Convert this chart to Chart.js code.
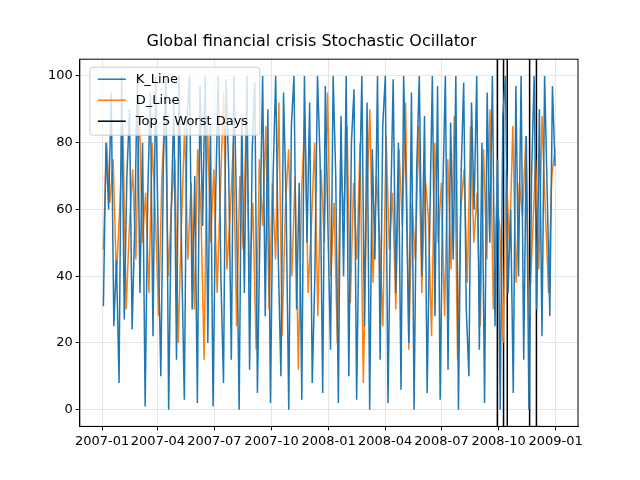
<!DOCTYPE html>
<html>
<head>
<script src="https://cdn.jsdelivr.net/npm/chart.js@4/dist/chart.umd.min.js"></script>
<style>body{margin:0;background:#fff}#wrap{width:640px;height:480px}</style>
</head>
<body>
<div id="wrap"><canvas id="c"></canvas></div>
<script>
// day offsets since 2007-01-01
const startDay = 2, endDay = 730;
const tickDays = [0, 90, 181, 273, 365, 456, 547, 639, 731];
const tickLabels = ['2007-01','2007-04','2007-07','2007-10','2008-01','2008-04','2008-07','2008-10','2009-01'];
const worstDays = [637, 647, 653, 689, 700];

const kValues = [31,80,60,95,25,45,8,100,27,70,90,24,55,100,35,80,1,65,95,22,100,50,10,75,100,0,60,92,15,100,45,3,88,100,30,70,2,97,55,100,20,85,1,64,100,40,8,99,72,15,100,60,0,88,35,100,12,78,98,5,55,100,28,90,2,70,100,45,10,95,62,0,85,100,30,68,3,100,50,92,8,40,100,75,5,97,55,18,100,70,2,88,40,100,10,80,96,3,60,100,25,92,0,78,45,100,15,85,100,2,58,99,35,80,6,100,66,20,95,0,72,100,40,88,5,55,100,28,97,3,65,100,12,86,45,100,0,70,98,30,10,92,60,100,18,80,2,95,50,100,25,75,0,88,100,35,60,5,97,40,100,15,82,0,70,100,30,90,22,100,65,28,97,73];
const dValues = [48,80,62,75,40,60,85,30,55,72,45,92,50,65,35,80,58,28,70,90,40,62,75,20,55,85,45,68,30,78,60,15,88,50,72,35,65,95,42,58,80,25,70,48,90,38,62,18,75,55,85,30,68,45,92,22,60,78,40,70,12,65,88,35,55,80,28,72,50,95,40,62,20,75,58,85,32,68,45,80,8,60,90,38,70,52,25,82,48,65,30,78,55,92,18,62,45,85,35,70,58,22,80,50,68,28,75,42,88,15,60,72,38,85,50,65,25,78,45,90,30,62,55,20,72,48,85,38,68,58,82,28,50,75,42,88,60,35,70,78];

const spread = (vals) => vals.map((v, i) => ({ x: startDay + i * (endDay - startDay) / (vals.length - 1), y: v }));
const worstPts = [];
worstDays.forEach(d => { worstPts.push({x: d, y: -10}, {x: d, y: 110}, {x: d, y: null}); });

const frameAndLegend = {
  id: 'frameAndLegend',
  afterDraw(chart) {
    const ctx = chart.ctx, a = chart.chartArea;
    ctx.save();
    ctx.strokeStyle = '#000'; ctx.lineWidth = 1;
    ctx.strokeRect(a.left, a.top, a.right - a.left, a.bottom - a.top);
    const items = [['K_Line','#1f77b4'],['D_Line','#ff7f0e'],['Top 5 Worst Days','#000']];
    const x = a.left + 10, y = a.top + 8;
    ctx.fillStyle = 'rgba(255,255,255,0.8)';
    ctx.strokeStyle = '#ccc';
    ctx.beginPath(); ctx.roundRect(x, y, 170, 68, 3); ctx.fill(); ctx.stroke();
    ctx.font = '13px "DejaVu Sans"';
    ctx.textBaseline = 'middle';
    items.forEach(([t, c], i) => {
      const yy = y + 12 + i * 21;
      ctx.strokeStyle = c; ctx.lineWidth = 1.5;
      ctx.beginPath(); ctx.moveTo(x + 8, yy); ctx.lineTo(x + 36, yy); ctx.stroke();
      ctx.fillStyle = '#000'; ctx.fillText(t, x + 46, yy);
    });
    ctx.restore();
  }
};

new Chart(document.getElementById('c'), {
  type: 'line',
  data: {
    datasets: [
      { label: 'K_Line', data: spread(kValues), borderColor: '#1f77b4', borderWidth: 1.5, pointRadius: 0, tension: 0 },
      { label: 'D_Line', data: spread(dValues), borderColor: '#ff7f0e', borderWidth: 1.5, pointRadius: 0, tension: 0 },
      { label: 'Top 5 Worst Days', data: worstPts, borderColor: '#000', borderWidth: 1.5, pointRadius: 0, spanGaps: false }
    ]
  },
  options: {
    responsive: true,
    maintainAspectRatio: false,
    animation: false,
    layout: { padding: { left: 45, right: 62, top: 32, bottom: 28 } },
    plugins: {
      legend: { display: false },
      tooltip: { enabled: false },
      title: { display: true, text: 'Global financial crisis Stochastic Ocillator', color: '#000', font: { family: 'DejaVu Sans', size: 16, weight: 'normal' }, padding: { bottom: 8 } }
    },
    scales: {
      x: {
        type: 'linear', min: -36, max: 767,
        afterBuildTicks: (s) => { s.ticks = tickDays.map(v => ({ value: v })); },
        ticks: { callback: (v) => tickLabels[tickDays.indexOf(v)], color: '#000', font: { family: 'DejaVu Sans', size: 13 }, maxRotation: 0, autoSkip: false },
        grid: { color: '#e6e6e6', tickColor: '#000', tickLength: 4 },
        border: { color: '#000' }
      },
      y: {
        min: -5, max: 105,
        afterBuildTicks: (s) => { s.ticks = [0,20,40,60,80,100].map(v => ({ value: v })); },
        ticks: { color: '#000', font: { family: 'DejaVu Sans', size: 13 } },
        grid: { color: '#e6e6e6', tickColor: '#000', tickLength: 4 },
        border: { color: '#000' }
      }
    }
  },
  plugins: [frameAndLegend]
});
</script>
</body>
</html>
